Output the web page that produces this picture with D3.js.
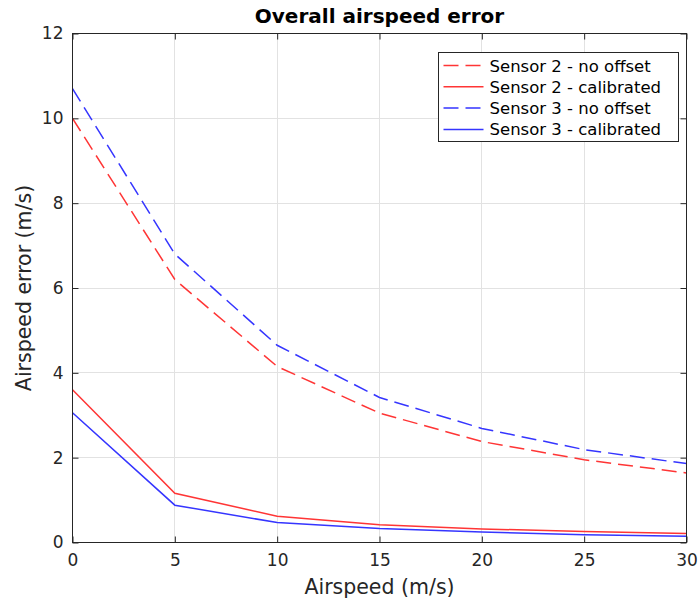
<!DOCTYPE html>
<html>
<head>
<meta charset="utf-8">
<script src="https://cdn.jsdelivr.net/npm/d3@7"></script>
<style>
  body { margin: 0; background: #fff; }
  text { font-family: "DejaVu Sans", sans-serif; }
</style>
</head>
<body>
<svg width="699" height="600"></svg>
<script>
var airspeed = [0, 5, 10, 15, 20, 25, 30];
var s2NoOffset = [10.0, 6.2, 4.15, 3.05, 2.38, 1.95, 1.64];
var s2Calibrated = [3.6, 1.16, 0.62, 0.42, 0.32, 0.26, 0.21];
var s3NoOffset = [10.7, 6.8, 4.65, 3.42, 2.69, 2.19, 1.86];
var s3Calibrated = [3.06, 0.88, 0.47, 0.33, 0.25, 0.18, 0.15];
var xTicks = [0, 5, 10, 15, 20, 25, 30];
var yTicks = [0, 2, 4, 6, 8, 10, 12];

var series = [
  { name: "Sensor 2 - no offset", values: s2NoOffset, color: "#ff3535", dash: "15,7" },
  { name: "Sensor 2 - calibrated", values: s2Calibrated, color: "#ff3535", dash: null },
  { name: "Sensor 3 - no offset", values: s3NoOffset, color: "#3535ff", dash: "15,7" },
  { name: "Sensor 3 - calibrated", values: s3Calibrated, color: "#3535ff", dash: null }
];

var svg = d3.select("svg");
var pLeft = 72.5, pRight = 686.5, pTop = 33.5, pBottom = 542.5;

var x = d3.scaleLinear().domain([0, 30]).range([pLeft, pRight]);
var y = d3.scaleLinear().domain([0, 12]).range([pBottom, pTop]);

// grid
svg.append("g").selectAll("line").data(xTicks).enter().append("line")
  .attr("x1", d => Math.round(x(d) - 0.5) + 0.5).attr("x2", d => Math.round(x(d) - 0.5) + 0.5)
  .attr("y1", pTop).attr("y2", pBottom)
  .attr("stroke", "#e2e2e2").attr("stroke-width", 1);
svg.append("g").selectAll("line").data(yTicks).enter().append("line")
  .attr("y1", d => Math.round(y(d) - 0.5) + 0.5).attr("y2", d => Math.round(y(d) - 0.5) + 0.5)
  .attr("x1", pLeft).attr("x2", pRight)
  .attr("stroke", "#e2e2e2").attr("stroke-width", 1);

// lines
var line = d3.line()
  .x((d, i) => x(airspeed[i]))
  .y(d => y(d));

svg.append("g").selectAll("path").data(series).enter().append("path")
  .attr("d", d => line(d.values))
  .attr("fill", "none")
  .attr("stroke", d => d.color)
  .attr("stroke-width", 1.5)
  .attr("stroke-dasharray", d => d.dash);

// axes (ticks inside)
var axisColor = "#262626";
function styleAxis(g) {
  g.select(".domain").remove();
  g.selectAll(".tick line").attr("stroke", axisColor);
  g.selectAll(".tick text").style("font-size", "17px").attr("fill", axisColor);
}
svg.append("g").attr("transform", "translate(0," + pBottom + ")")
  .call(d3.axisBottom(x).tickValues(xTicks).tickSizeInner(-6).tickPadding(11))
  .call(styleAxis);
svg.append("g").attr("transform", "translate(" + pLeft + ",0)")
  .call(d3.axisLeft(y).tickValues(yTicks).tickSizeInner(-6).tickPadding(9))
  .call(styleAxis);
svg.append("g").attr("transform", "translate(0," + pTop + ")")
  .call(d3.axisTop(x).tickValues(xTicks).tickSizeInner(-6).tickFormat(""))
  .call(styleAxis);
svg.append("g").attr("transform", "translate(" + pRight + ",0)")
  .call(d3.axisRight(y).tickValues(yTicks).tickSizeInner(-6).tickFormat(""))
  .call(styleAxis);

svg.append("rect")
  .attr("x", pLeft).attr("y", pTop)
  .attr("width", pRight - pLeft).attr("height", pBottom - pTop)
  .attr("fill", "none").attr("stroke", axisColor).attr("stroke-width", 1);

// title and labels
svg.append("text").attr("x", (pLeft + pRight) / 2).attr("y", 23)
  .attr("text-anchor", "middle").style("font-size", "20px").style("font-weight", "bold")
  .attr("fill", "#000").text("Overall airspeed error");
svg.append("text").attr("x", (pLeft + pRight) / 2).attr("y", 594)
  .attr("text-anchor", "middle").style("font-size", "20.5px").attr("fill", axisColor)
  .text("Airspeed (m/s)");
svg.append("text")
  .attr("transform", "translate(31," + (pTop + pBottom) / 2 + ") rotate(-90)")
  .attr("text-anchor", "middle").style("font-size", "20.5px").attr("fill", axisColor)
  .text("Airspeed error (m/s)");

// legend
var legend = svg.append("g").attr("transform", "translate(438.5,52.5)");
legend.append("rect").attr("width", 240).attr("height", 89)
  .attr("fill", "#fff").attr("stroke", axisColor).attr("stroke-width", 1);
var rows = legend.selectAll("g.row").data(series).enter().append("g")
  .attr("transform", (d, i) => "translate(0," + (13 + i * 21.3) + ")");
rows.append("line").attr("x1", 5).attr("x2", 45).attr("y1", 0).attr("y2", 0)
  .attr("stroke", d => d.color).attr("stroke-width", 1.5)
  .attr("stroke-dasharray", d => d.dash);
rows.append("text").attr("x", 51).attr("y", 6).style("font-size", "16.5px")
  .attr("fill", "#000").text(d => d.name);
</script>
</body>
</html>
